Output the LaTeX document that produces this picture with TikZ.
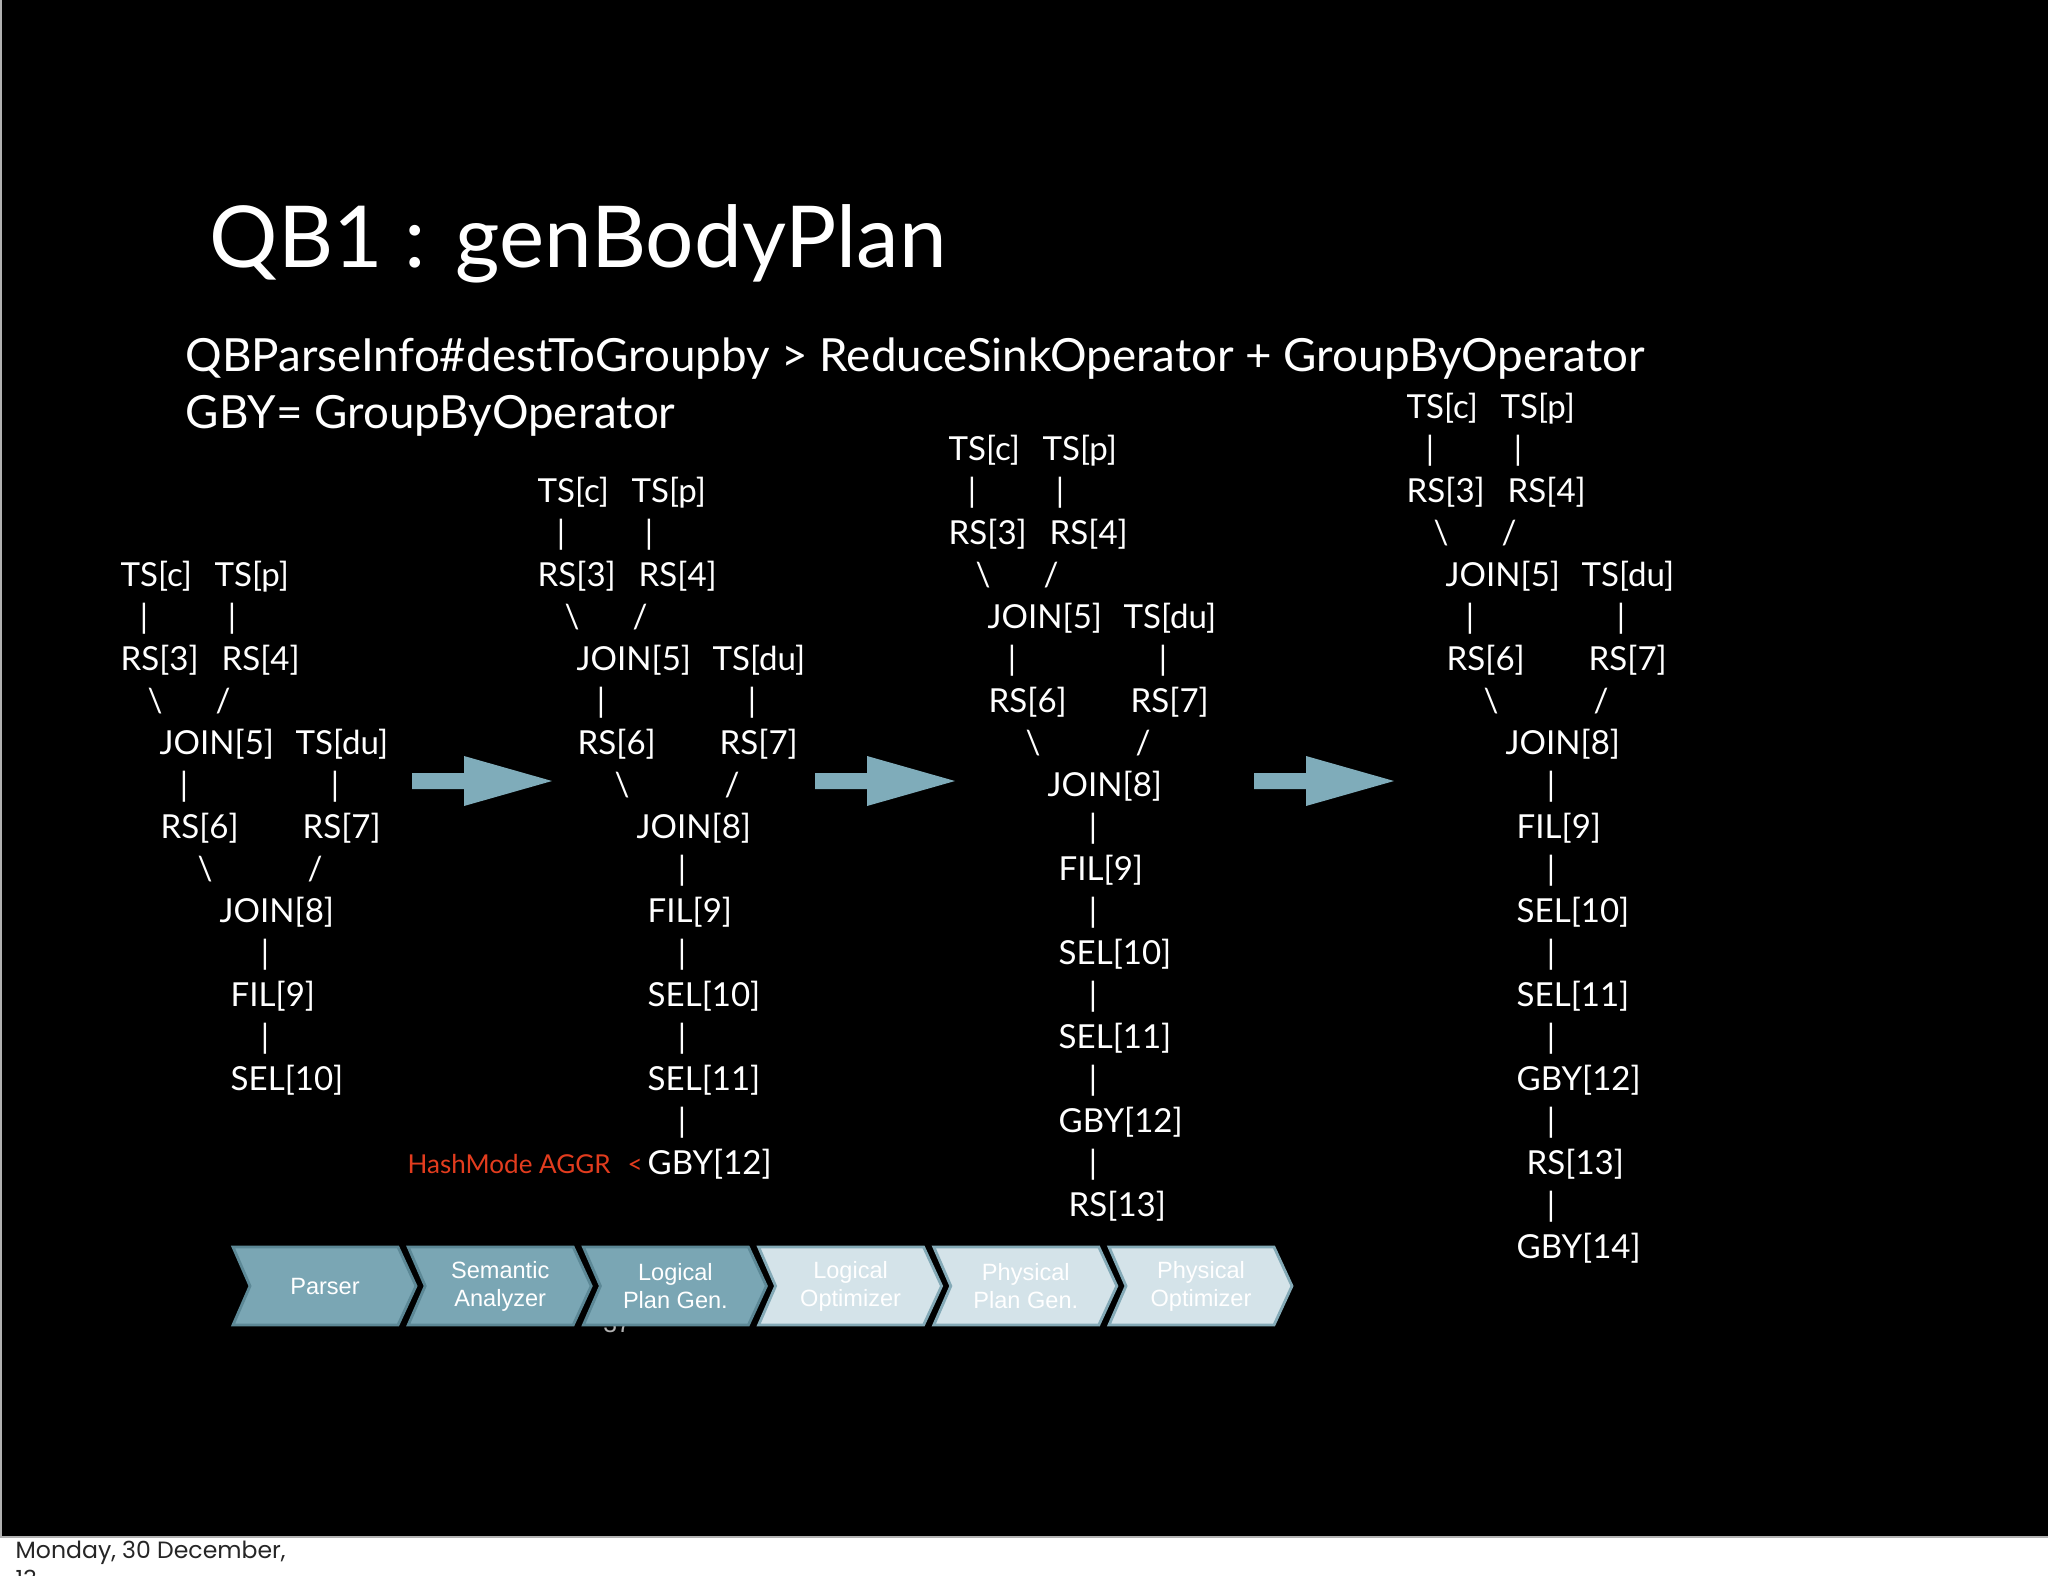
\documentclass[tikz,border=0pt]{standalone}
\usepackage{fontspec}
\setmainfont{Lato}
\newfontfamily\chevfont{Liberation Sans}
\newfontfamily\datefont{Poppins}

\definecolor{arrowblue}{RGB}{127,172,186}
\definecolor{stagedark}{RGB}{122,166,180}
\definecolor{stagedarkline}{RGB}{92,136,150}
\definecolor{stagelight}{RGB}{212,227,233}
\definecolor{stagelightline}{RGB}{132,170,183}
\definecolor{aggrred}{RGB}{226,60,30}

\begin{document}
\begin{tikzpicture}[x=0.01cm, y=-0.01cm,
    op/.style={text=white, font=\fontsize{9.4}{11}\selectfont, anchor=base west, inner sep=0pt},
    lnk/.style={op, anchor=base},
    blockarrow/.style={fill=arrowblue},
    stagetext/.style={text=white, align=center, font=\chevfont\fontsize{6.7}{8}\selectfont, inner sep=0pt}]
    \useasboundingbox (0,0) rectangle (2048,1576);

    % Slide
    \fill[white] (0,0) rectangle (2048,1576);
    \fill[black] (0,0) rectangle (2048,1537);
    \draw[gray!60, line width=0.4pt] (1,0) -- (1,1537) -- (2048,1537);

    % Title and notes
    \node[text=white, anchor=base west, inner sep=0pt, font=\fontsize{24.3}{30}\selectfont] (title) at (209,268) {QB1 : genBodyPlan};
    \node[text=white, anchor=base west, inner sep=0pt, align=left, font=\fontsize{13}{16}\selectfont] (note) at (185,428)
        {QBParseInfo\#destToGroupby > ReduceSinkOperator + GroupByOperator\\GBY= GroupByOperator};

    % Operator trees
    \foreach \tr/\dx/\dy/\last in {1/0/0/12, 2/417/-84/16, 3/828/-126/18, 4/1286/-168/20} {
      \begin{scope}[shift={(\dx,\dy)}]
        \foreach \px/\row/\sty/\txt [count=\k] in {
            120/0/op/TS[c], 214/0/op/TS[p],
            144/1/lnk/|, 232/1/lnk/|,
            120/2/op/RS[3], 221/2/op/RS[4],
            155/3/lnk/\textbackslash, 223/3/lnk/\slash,
            159/4/op/JOIN[5], 295/4/op/TS[du],
            184/5/lnk/|, 335/5/lnk/|,
            160/6/op/RS[6], 302/6/op/RS[7],
            205/7/lnk/\textbackslash, 315/7/lnk/\slash,
            219/8/op/JOIN[8], 265/9/lnk/|,
            230/10/op/FIL[9], 265/11/lnk/|,
            230/12/op/SEL[10], 265/13/lnk/|,
            230/14/op/SEL[11], 265/15/lnk/|,
            230/16/op/GBY[12], 265/17/lnk/|,
            240/18/op/RS[13], 265/19/lnk/|,
            230/20/op/GBY[14]} {
          \ifnum\row>\last\else
            \node[\sty] (t\tr-\k) at (\px,{586+42*\row}) {\txt};
          \fi
        }
      \end{scope}
    }

    % HashMode note on GBY[12]
    \node[text=aggrred, anchor=base west, inner sep=0pt, font=\fontsize{7.4}{9}\selectfont] (hash) at (407,1173) {HashMode AGGR};
    \node[text=aggrred, anchor=base west, inner sep=0pt, font=\fontsize{7.4}{9}\selectfont] (lt) at (627,1173) {<};

    % Block arrows between trees
    \foreach \ax in {412,815,1254}
      \fill[blockarrow] (\ax,773) -- ++(52,0) -- ++(0,-17) -- ++(88,25) -- ++(-88,25) -- ++(0,-17) -- ++(-52,0) -- cycle;

    % Page number (mostly hidden)
    \node[text=gray!60, anchor=base, inner sep=0pt, font=\chevfont\fontsize{7}{8}\selectfont] (page) at (617,1332) {37};

    % Compiler stages
    \foreach \lbl [count=\i] in {Parser, Semantic\\Analyzer, Logical\\Plan Gen., Logical\\Optimizer, Physical\\Plan Gen., Physical\\Optimizer} {
      \ifnum\i<4
        \def\sfill{stagedark}\def\sline{stagedarkline}
      \else
        \def\sfill{stagelight}\def\sline{stagelightline}
      \fi
      \filldraw[fill=\sfill, draw=\sline, line width=0.8pt]
        ({233+175.2*(\i-1)},1247) -- ++(165,0) -- ++(18,39) -- ++(-18,39) -- ++(-165,0) -- ++(17,-39) -- cycle;
      \node[stagetext] (s\i) at ({325+175.2*(\i-1)},1286) {\lbl};
    }

    % Footer date
    \node[anchor=base west, inner sep=0pt, align=left, text=black!85, font=\datefont\fontsize{6.7}{8}\selectfont] (date) at (15,1587) {Monday, 30 December,\\13};
\end{tikzpicture}
\end{document}
